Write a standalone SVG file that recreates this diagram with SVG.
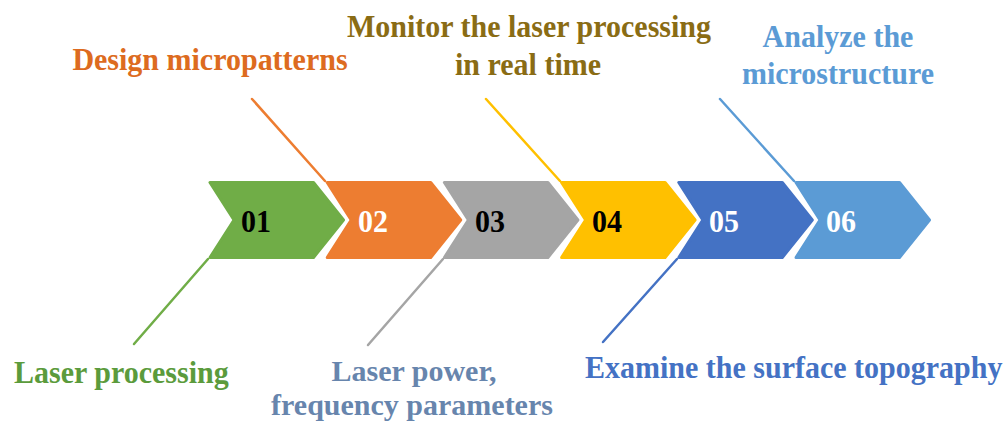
<svg xmlns="http://www.w3.org/2000/svg" width="1008" height="428" viewBox="0 0 1008 428">
<style>
  text { font-family: "Liberation Serif", "Times New Roman", serif; font-weight: bold; font-size: 30px; }
  .lbl { text-anchor: middle; }
  .num { font-size: 30px; }
  .chev { stroke-width: 3; stroke-linejoin: round; }
  .ln { stroke-width: 2.5; stroke-linecap: round; fill: none; }
</style>
<defs>
  <path id="chev" d="M2,0 H105.5 L135.5,37.5 L105.5,75 H2 L26,37.5 Z"/>
</defs>
<rect width="1008" height="428" fill="#ffffff"/>
<g id="connectors">
  <line class="ln" x1="134" y1="344" x2="208" y2="259" stroke="#70AD47"/>
  <line class="ln" x1="252" y1="99" x2="325" y2="181" stroke="#ED7D31"/>
  <line class="ln" x1="368" y1="345" x2="443" y2="259" stroke="#A5A5A5"/>
  <line class="ln" x1="486" y1="99" x2="560" y2="181" stroke="#FFC000"/>
  <line class="ln" x1="603" y1="342" x2="677" y2="259" stroke="#4472C4"/>
  <line class="ln" x1="720" y1="99" x2="794" y2="181" stroke="#5B9BD5"/>
</g>
<g id="step01">
  <use href="#chev" class="chev" transform="translate(208,182.5)" fill="#70AD47" stroke="#70AD47"/>
  <text class="num" x="241" y="0" transform="translate(0,232) scale(1,1.08)" fill="#000000">01</text>
</g>
<g id="step02">
  <use href="#chev" class="chev" transform="translate(325.2,182.5)" fill="#ED7D31" stroke="#ED7D31"/>
  <text class="num" x="358" y="0" transform="translate(0,232) scale(1,1.08)" fill="#ffffff">02</text>
</g>
<g id="step03">
  <use href="#chev" class="chev" transform="translate(442.4,182.5)" fill="#A5A5A5" stroke="#A5A5A5"/>
  <text class="num" x="475" y="0" transform="translate(0,232) scale(1,1.08)" fill="#000000">03</text>
</g>
<g id="step04">
  <use href="#chev" class="chev" transform="translate(559.6,182.5)" fill="#FFC000" stroke="#FFC000"/>
  <text class="num" x="592" y="0" transform="translate(0,232) scale(1,1.08)" fill="#000000">04</text>
</g>
<g id="step05">
  <use href="#chev" class="chev" transform="translate(676.8,182.5)" fill="#4472C4" stroke="#4472C4"/>
  <text class="num" x="709" y="0" transform="translate(0,232) scale(1,1.08)" fill="#ffffff">05</text>
</g>
<g id="step06">
  <use href="#chev" class="chev" transform="translate(794,182.5)" fill="#5B9BD5" stroke="#5B9BD5"/>
  <text class="num" x="826" y="0" transform="translate(0,232) scale(1,1.08)" fill="#ffffff">06</text>
</g>
<g id="label-design">
  <text class="lbl" x="210" y="0" transform="translate(0,70) scale(1,1.08)" fill="#DD6B20">Design micropatterns</text>
</g>
<g id="label-monitor">
  <text class="lbl" x="529" y="0" transform="translate(0,37) scale(1,1.08)" fill="#8A6C14">Monitor the laser processing</text>
  <text class="lbl" x="528" y="0" transform="translate(0,75) scale(1,1.08)" fill="#8A6C14">in real time</text>
</g>
<g id="label-analyze">
  <text class="lbl" x="838" y="0" transform="translate(0,47) scale(1,1.08)" fill="#5B9BD5">Analyze the</text>
  <text class="lbl" x="838" y="0" transform="translate(0,84) scale(1,1.08)" fill="#5B9BD5">microstructure</text>
</g>
<g id="label-laser">
  <text x="14" y="0" transform="translate(0,383) scale(1,1.08)" fill="#5B9B3C">Laser processing</text>
</g>
<g id="label-power">
  <text class="lbl" x="414" y="381" fill="#6785AD">Laser power,</text>
  <text class="lbl" x="412" y="415" fill="#6785AD">frequency parameters</text>
</g>
<g id="label-examine">
  <text x="585" y="0" transform="translate(0,378) scale(1,1.08)" fill="#4472C4">Examine the surface topography</text>
</g>
</svg>
